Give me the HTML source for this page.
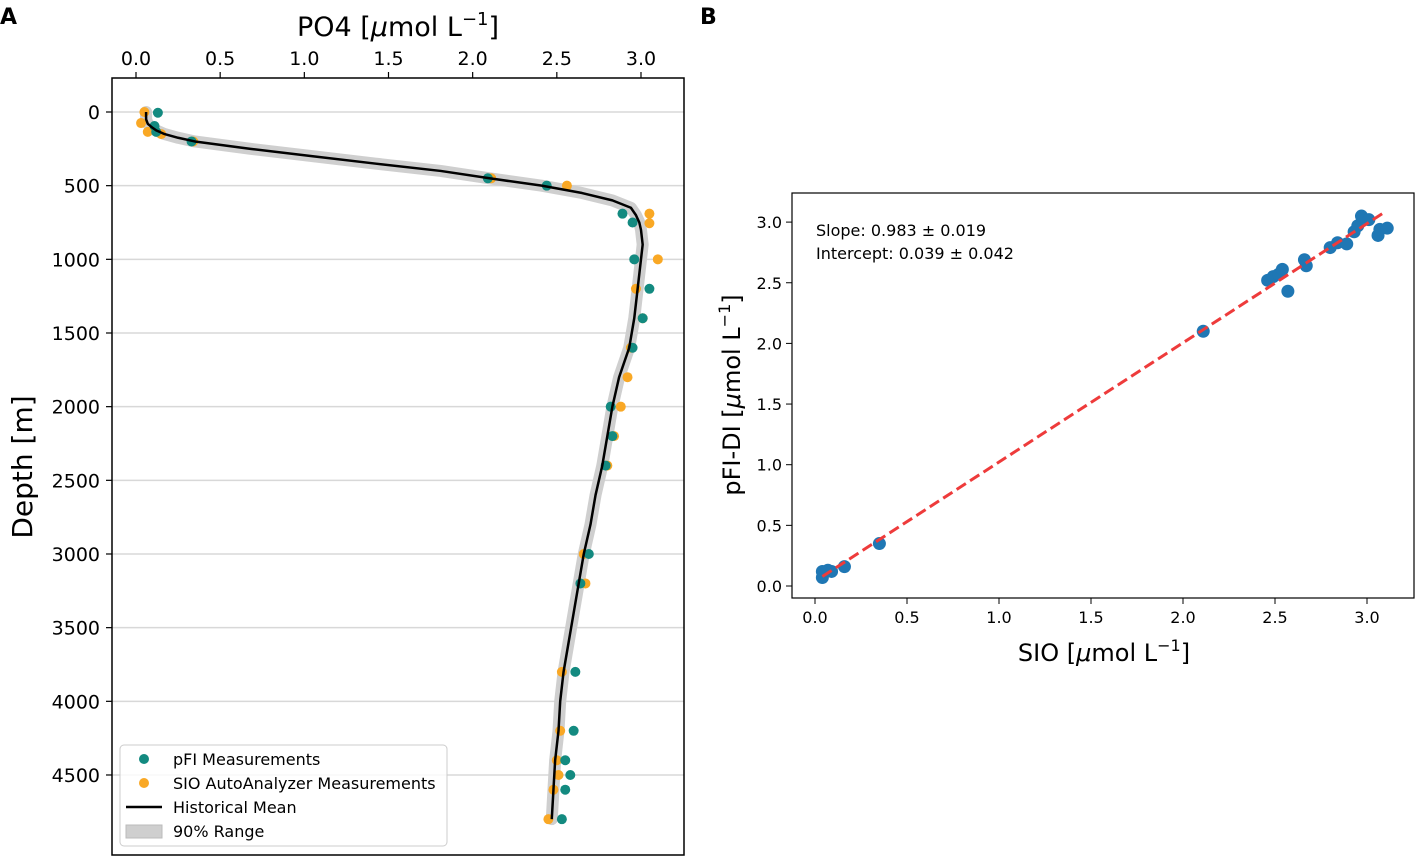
<!DOCTYPE html>
<html><head><meta charset="utf-8"><style>
body{margin:0;background:#fff;}
svg text{font-family:"DejaVu Sans","Liberation Sans",sans-serif;}
</style></head><body>
<svg id="fig" width="1421" height="863" viewBox="0 0 1421 863" xmlns="http://www.w3.org/2000/svg">
<text x="0" y="24" font-size="22" font-weight="bold" font-family="Liberation Sans">A</text>
<text x="700" y="24" font-size="22" font-weight="bold" font-family="Liberation Sans">B</text>
<g id="pa"></g>
<g id="pb"></g>
</svg>
<script>
// ---- Panel A data ----
const meanDepth=[0,50,80,100,125,150,175,200,250,300,350,400,450,500,550,600,650,700,750,800,900,1000,1100,1200,1400,1600,1800,2000,2200,2400,2600,2800,3000,3200,3400,3600,3800,4000,4200,4400,4600,4800];
const meanPO4=[0.06,0.06,0.07,0.09,0.12,0.17,0.25,0.35,0.68,1.05,1.42,1.81,2.1,2.41,2.65,2.83,2.94,2.97,2.99,3.0,3.01,3.0,2.99,2.98,2.96,2.93,2.87,2.83,2.8,2.77,2.73,2.7,2.66,2.63,2.6,2.57,2.54,2.52,2.51,2.49,2.48,2.47];
const pfiDepth=[5,95,135,200,450,500,690,750,1000,1200,1400,1600,2000,2200,2400,3000,3200,3800,4200,4400,4500,4600,4800];
const pfiPO4=[0.13,0.11,0.12,0.33,2.09,2.44,2.89,2.95,2.96,3.05,3.01,2.95,2.82,2.83,2.79,2.69,2.64,2.61,2.6,2.55,2.58,2.55,2.53];
const sioDepth=[0,75,135,150,200,450,500,690,755,1000,1200,1400,1600,1800,2000,2200,2400,3000,3200,3800,4200,4400,4500,4600,4800];
const sioPO4=[0.05,0.03,0.07,0.15,0.34,2.11,2.56,3.05,3.05,3.1,2.97,3.01,2.94,2.92,2.88,2.84,2.8,2.66,2.67,2.53,2.52,2.5,2.51,2.48,2.45];
const xTicksA=[0,0.5,1,1.5,2,2.5,3];
const yTicksA=[0,500,1000,1500,2000,2500,3000,3500,4000,4500];
// ---- Panel B data ----
const sioB=[0.04,0.04,0.07,0.09,0.16,0.35,2.11,2.46,2.49,2.52,2.54,2.57,2.66,2.67,2.80,2.84,2.89,2.93,2.95,2.97,3.01,3.06,3.07,3.11];
const pfiB=[0.07,0.12,0.13,0.12,0.16,0.35,2.10,2.52,2.55,2.57,2.61,2.43,2.69,2.64,2.79,2.83,2.82,2.92,2.97,3.05,3.02,2.89,2.94,2.95];
const slope=0.983, intercept=0.039;
const fitRange=[0.04,3.10];
const xTicksB=[0,0.5,1,1.5,2,2.5,3];
const yTicksB=[0,0.5,1,1.5,2,2.5,3];

const NS="http://www.w3.org/2000/svg";
function mk(parent,tag,attrs,text){const e=document.createElementNS(NS,tag);for(const k in attrs)e.setAttribute(k,attrs[k]);if(text!==undefined)e.textContent=text;parent.appendChild(e);return e;}
const fmt=v=>v.toFixed(1);

// Panel A
const pa=document.getElementById('pa');
const ax=v=>136+v*168.33, ay=d=>112+d*0.14733;
const L=112,R=684,T=78,B=855;
mk(pa,'rect',{x:L,y:T,width:R-L,height:B-T,fill:'#fff'});
yTicksA.forEach(d=>{
 let g=mk(pa,'line',{x1:L,x2:R,y1:ay(d),y2:ay(d),stroke:'#d8d8d8','stroke-width':1.5});
 
 
 mk(pa,'line',{x1:L-6,x2:L,y1:ay(d),y2:ay(d),stroke:'#000','stroke-width':1.2});
 let t=mk(pa,'text',{x:L-12,y:ay(d)+7,'font-size':19,'text-anchor':'end'},String(d));
 
 
});
xTicksA.forEach(v=>{
 mk(pa,'line',{x1:ax(v),x2:ax(v),y1:T-6,y2:T,stroke:'#000','stroke-width':1.2});
 let t=mk(pa,'text',{x:ax(v),y:T-13,'font-size':19,'text-anchor':'middle'},fmt(v));
 
 
});
// band
const meanPts=meanDepth.map((d,i)=>ax(meanPO4[i])+','+ay(d)).join(' ');
let band=mk(pa,'polyline',{points:meanPts,fill:'none',stroke:'#cfcfcf','stroke-width':12,'stroke-linejoin':'round','stroke-linecap':'round'});


sioDepth.forEach((d,i)=>{let c=mk(pa,'circle',{cx:ax(sioPO4[i]),cy:ay(d),r:5,fill:'#f9a825'});
 
 });
pfiDepth.forEach((d,i)=>{let c=mk(pa,'circle',{cx:ax(pfiPO4[i]),cy:ay(d),r:5,fill:'#138a80'});
 
 });
let ml=mk(pa,'polyline',{points:meanPts,fill:'none',stroke:'#000','stroke-width':2.5,'stroke-linejoin':'round'});


mk(pa,'rect',{x:L,y:T,width:R-L,height:B-T,fill:'none',stroke:'#000','stroke-width':1.5});
let xtA=mk(pa,'text',{x:398,y:36,'font-size':27,'text-anchor':'middle'});
xtA.innerHTML='PO4 [<tspan font-style="italic">μ</tspan>mol L<tspan font-size="18" dy="-11">−1</tspan><tspan dy="11">]</tspan>';


let ytA=mk(pa,'text',{x:0,y:0,'font-size':28,'text-anchor':'middle',transform:'translate(32,467) rotate(-90)'},'Depth [m]');


// legend
let lg=mk(pa,'g',{});


mk(lg,'rect',{x:120,y:745,width:327,height:101,rx:4,fill:'#fff','fill-opacity':0.85,stroke:'#ccc'});
mk(lg,'circle',{cx:144,cy:759,r:5,fill:'#138a80'});
mk(lg,'text',{x:173,y:765,'font-size':16},'pFI Measurements');
mk(lg,'circle',{cx:144,cy:783,r:5,fill:'#f9a825'});
mk(lg,'text',{x:173,y:789,'font-size':16},'SIO AutoAnalyzer Measurements');
mk(lg,'line',{x1:126,x2:162,y1:807,y2:807,stroke:'#000','stroke-width':2.5});
mk(lg,'text',{x:173,y:813,'font-size':16},'Historical Mean');
mk(lg,'rect',{x:126,y:825,width:36,height:13,fill:'#cfcfcf',stroke:'#bbb'});
mk(lg,'text',{x:173,y:837,'font-size':16},'90% Range');

// Panel B
const pb=document.getElementById('pb');
const bx=v=>815+v*184, by=v=>586-v*121.3;
const L2=792,R2=1414,T2=193,B2=598;
mk(pb,'rect',{x:L2,y:T2,width:R2-L2,height:B2-T2,fill:'#fff',stroke:'#000','stroke-width':1.2});
xTicksB.forEach(v=>{mk(pb,'line',{x1:bx(v),x2:bx(v),y1:B2,y2:B2+6,stroke:'#000'});
 let t=mk(pb,'text',{x:bx(v),y:B2+25,'font-size':16,'text-anchor':'middle'},fmt(v));
 
 });
yTicksB.forEach(v=>{mk(pb,'line',{x1:L2-6,x2:L2,y1:by(v),y2:by(v),stroke:'#000'});
 let t=mk(pb,'text',{x:L2-10,y:by(v)+6,'font-size':16,'text-anchor':'end'},fmt(v));
 
 });
sioB.forEach((v,i)=>{let c=mk(pb,'circle',{cx:bx(v),cy:by(pfiB[i]),r:6.5,fill:'#1f77b4'});
 
 });
let fl=mk(pb,'line',{x1:bx(fitRange[0]),y1:by(slope*fitRange[0]+intercept),x2:bx(fitRange[1]),y2:by(slope*fitRange[1]+intercept),stroke:'#ee3b3b','stroke-width':3,'stroke-dasharray':'11,5'});


let s1=mk(pb,'text',{x:816,y:236,'font-size':16},'Slope: 0.983 ± 0.019');


let s2=mk(pb,'text',{x:816,y:259,'font-size':16},'Intercept: 0.039 ± 0.042');


let xtB=mk(pb,'text',{x:1104,y:661,'font-size':24,'text-anchor':'middle'});
xtB.innerHTML='SIO [<tspan font-style="italic">μ</tspan>mol L<tspan font-size="16" dy="-10">−1</tspan><tspan dy="10">]</tspan>';


let ytB=mk(pb,'text',{x:0,y:0,'font-size':24,'text-anchor':'middle',transform:'translate(740,395) rotate(-90)'});
ytB.innerHTML='pFI-DI [<tspan font-style="italic">μ</tspan>mol L<tspan font-size="16" dy="-10">−1</tspan><tspan dy="10">]</tspan>';


</script>
</body></html>
